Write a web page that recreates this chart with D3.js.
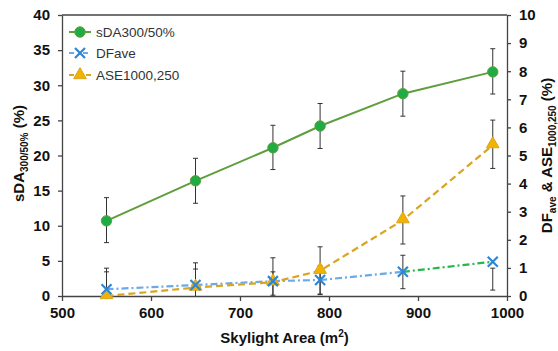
<!DOCTYPE html>
<html>
<head>
<meta charset="utf-8">
<script src="https://cdn.jsdelivr.net/npm/d3@7"></script>
<style>
  body { margin: 0; background: #fff; }
  text { font-family: "Liberation Sans", Arial, sans-serif; }
</style>
</head>
<body>
<svg id="chart" width="558" height="351"></svg>
<script>
// skylight area (m2)
var areas = [550, 650, 737, 790, 883, 984];

// sDA300/50% (left axis, %)
var sda = [10.7, 16.4, 21.1, 24.2, 28.8, 31.9];
var sdaLo = [7.6, 13.2, 18.0, 21.0, 25.6, 28.75];
var sdaHi = [14.0, 19.6, 24.3, 27.4, 32.0, 35.2];

// DFave (right axis, %)
var df = [0.24, 0.39, 0.53, 0.57, 0.86, 1.22];
var dfLo = [0, 0, 0.03, 0.07, 0.26, 0.21];
var dfHi = [0.99, 0.96, 0.86, 1.07, 1.45, 0.99];

// ASE1000,250 (right axis, %)
var ase = [0, 0.3, 0.49, 0.9, 2.7, 5.37];
var aseLo = [0, 0, 0, 0.05, 1.85, 4.54];
var aseHi = [0.86, 1.18, 1.36, 1.75, 3.56, 6.26];

var xTicks = [500, 600, 700, 800, 900, 1000];
var yLeftTicks = [0, 5, 10, 15, 20, 25, 30, 35, 40];
var yRightTicks = [0, 1, 2, 3, 4, 5, 6, 7, 8, 9, 10];

var svg = d3.select("#chart");
var pLeft = 62, pRight = 507, pTop = 15, pBottom = 296;
var axisCol = "#444";

var x = d3.scaleLinear().domain([500, 1000]).range([pLeft, pRight]);
var yL = d3.scaleLinear().domain([0, 40]).range([pBottom, pTop]);
var yR = d3.scaleLinear().domain([0, 10]).range([pBottom, pTop]);

// top border
svg.append("line").attr("x1", pLeft).attr("x2", pRight).attr("y1", pTop).attr("y2", pTop)
  .attr("stroke", axisCol).attr("stroke-width", 1.3);

function styleAxis(g) {
  g.selectAll("path").attr("stroke", axisCol).attr("stroke-width", 1.3);
  g.selectAll("line").attr("stroke", axisCol).attr("stroke-width", 1.3);
  g.selectAll("text").attr("fill", "#111").style("font-size", "15px").style("font-weight", "bold")
    .style("font-family", "'Liberation Sans', Arial, sans-serif");
}

svg.append("g").attr("transform", "translate(0," + pBottom + ")")
  .call(d3.axisBottom(x).tickValues(xTicks).tickFormat(d3.format("d")).tickSize(5).tickSizeOuter(0).tickPadding(6))
  .call(styleAxis);

svg.append("g").attr("transform", "translate(" + pLeft + ",0)")
  .call(d3.axisLeft(yL).tickValues(yLeftTicks).tickSize(4).tickSizeOuter(0).tickPadding(8))
  .call(styleAxis);

svg.append("g").attr("transform", "translate(" + pRight + ",0)")
  .call(d3.axisRight(yR).tickValues(yRightTicks).tickSize(4).tickSizeOuter(0).tickPadding(8))
  .call(styleAxis);

// axis titles
svg.append("text").attr("x", (pLeft + pRight) / 2).attr("y", 343).attr("text-anchor", "middle")
  .style("font-size", "15px").style("font-weight", "bold").attr("fill", "#111")
  .html('Skylight Area (m<tspan dy="-6" font-size="10px">2</tspan><tspan dy="6">)</tspan>');

svg.append("text").attr("transform", "translate(24," + ((pTop + pBottom) / 2 - 2) + ") rotate(-90)")
  .attr("text-anchor", "middle").style("font-size", "15px").style("font-weight", "bold").attr("fill", "#111")
  .html('sDA<tspan dy="4" font-size="10px">300/50%</tspan><tspan dy="-4"> (%)</tspan>');

svg.append("text").attr("transform", "translate(552," + ((pTop + pBottom) / 2) + ") rotate(-90)")
  .attr("text-anchor", "middle").style("font-size", "15px").style("font-weight", "bold").attr("fill", "#111")
  .html('DF<tspan dy="4" font-size="10px">ave</tspan><tspan dy="-4"> &amp; ASE</tspan><tspan dy="4" font-size="10px">1000,250</tspan><tspan dy="-4"> (%)</tspan>');

// error bars
function errorBars(lo, hi, y) {
  var g = svg.append("g").attr("stroke", "#333").attr("stroke-width", 1);
  areas.forEach(function(a, i) {
    var xp = x(a), y1 = y(lo[i]), y2 = y(hi[i]);
    g.append("line").attr("x1", xp).attr("x2", xp).attr("y1", y1).attr("y2", y2);
    g.append("line").attr("x1", xp - 2.5).attr("x2", xp + 2.5).attr("y1", y2).attr("y2", y2);
    if (lo[i] > 0) g.append("line").attr("x1", xp - 2.5).attr("x2", xp + 2.5).attr("y1", y1).attr("y2", y1);
  });
}
errorBars(sdaLo, sdaHi, yL);
errorBars(dfLo, dfHi, yR);
errorBars(aseLo, aseHi, yR);

// DF line (last segment green)
var dfCols = ["#6aaae6", "#6aaae6", "#6aaae6", "#6aaae6", "#22b84a"];
for (var i = 0; i < areas.length - 1; i++) {
  svg.append("line").attr("x1", x(areas[i])).attr("y1", yR(df[i]))
    .attr("x2", x(areas[i + 1])).attr("y2", yR(df[i + 1]))
    .attr("stroke", dfCols[i]).attr("stroke-width", 2.2).attr("stroke-dasharray", "7,3,2,3");
}

// ASE line
var lineR = d3.line().x(function(d) { return x(d[0]); }).y(function(d) { return yR(d[1]); });
svg.append("path").datum(d3.zip(areas, ase)).attr("d", lineR)
  .attr("fill", "none").attr("stroke", "#d9a520").attr("stroke-width", 2.2).attr("stroke-dasharray", "7,4");

// sDA line
var lineL = d3.line().x(function(d) { return x(d[0]); }).y(function(d) { return yL(d[1]); });
svg.append("path").datum(d3.zip(areas, sda)).attr("d", lineL)
  .attr("fill", "none").attr("stroke", "#5e9e3c").attr("stroke-width", 2);

// markers
var tri = d3.symbol().type(d3.symbolTriangle).size(70);
function xMark(g, xp, yp, col) {
  var s = 5;
  g.append("path").attr("d", "M" + (xp - s) + "," + (yp - s) + "L" + (xp + s) + "," + (yp + s) +
    "M" + (xp - s) + "," + (yp + s) + "L" + (xp + s) + "," + (yp - s))
    .attr("stroke", col).attr("stroke-width", 2.2).attr("fill", "none");
}
function circleMark(g, xp, yp) {
  g.append("circle").attr("cx", xp).attr("cy", yp).attr("r", 5.2)
    .attr("fill", "#1fac45").attr("stroke", "#5e9e3c").attr("stroke-width", 1);
}
function triMark(g, xp, yp) {
  g.append("path").attr("d", tri).attr("transform", "translate(" + xp + "," + (yp - 1) + ")")
    .attr("fill", "#f0b400").attr("stroke", "#d9a520").attr("stroke-width", 1);
}

var mk = svg.append("g");
areas.forEach(function(a, i) {
  triMark(mk, x(a), yR(ase[i]));
});
areas.forEach(function(a, i) {
  xMark(mk, x(a), yR(df[i]), "#2f86d6");
});
areas.forEach(function(a, i) {
  circleMark(mk, x(a), yL(sda[i]));
});

// legend
var legNames = ["sDA300/50%", "DFave", "ASE1000,250"];
var legY = [32, 53, 75];
var lg = svg.append("g");
var lx1 = 69, lx2 = 91, lxm = 80;
lg.append("line").attr("x1", lx1).attr("x2", lx2).attr("y1", legY[0]).attr("y2", legY[0])
  .attr("stroke", "#5e9e3c").attr("stroke-width", 2);
circleMark(lg, lxm, legY[0]);
lg.append("line").attr("x1", lx1).attr("x2", lx2).attr("y1", legY[1]).attr("y2", legY[1])
  .attr("stroke", "#6aaae6").attr("stroke-width", 2.2).attr("stroke-dasharray", "5,4,2,3");
xMark(lg, lxm, legY[1], "#2f86d6");
lg.append("line").attr("x1", lx1).attr("x2", lx2).attr("y1", legY[2]).attr("y2", legY[2])
  .attr("stroke", "#d9a520").attr("stroke-width", 2.2).attr("stroke-dasharray", "5,12");
triMark(lg, lxm, legY[2] + 1);
legNames.forEach(function(n, i) {
  lg.append("text").attr("x", 96).attr("y", legY[i] + 5).text(n)
    .style("font-size", "13.5px").attr("fill", "#333");
});
</script>
</body>
</html>
